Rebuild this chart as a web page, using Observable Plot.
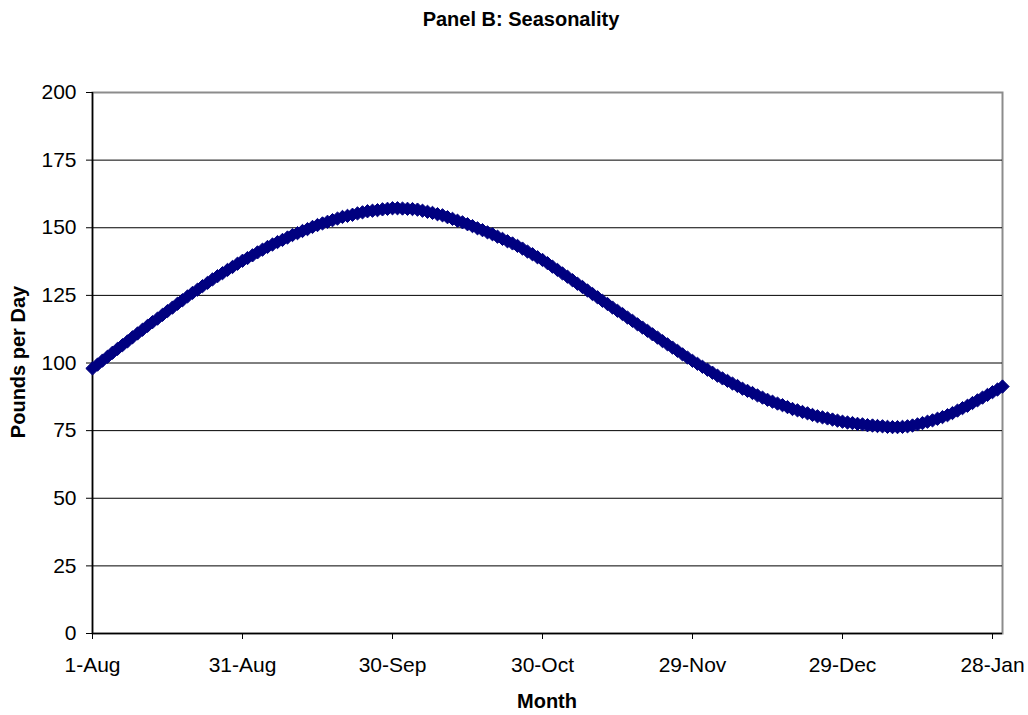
<!DOCTYPE html>
<html>
<head>
<meta charset="utf-8">
<script src="https://cdn.jsdelivr.net/npm/d3@7"></script>
<script src="https://cdn.jsdelivr.net/npm/@observablehq/plot@0.6"></script>
<style>
  html, body { margin: 0; padding: 0; background: #fff; }
  #chart { position: relative; width: 1028px; height: 715px; }
</style>
</head>
<body>
<div id="chart"></div>
<script>
const titleText = "Panel B: Seasonality";
const xLabelText = "Month";
const yLabelText = "Pounds per Day";

const startDate = "2006-08-01";

// Daily pounds per day, 1-Aug through 30-Jan
const pounds = [
  98.0, 99.4, 100.9, 102.3, 103.8, 105.2,
  106.6, 108.0, 109.5, 110.9, 112.3,
  113.7, 115.1, 116.4, 117.8, 119.2,
  120.5, 121.9, 123.2, 124.6, 125.9,
  127.1, 128.4, 129.6, 130.9, 132.1,
  133.2, 134.4, 135.5, 136.7, 137.8,
  138.8, 139.8, 140.9, 141.9, 142.9,
  143.8, 144.7, 145.5, 146.4, 147.3,
  148.0, 148.8, 149.5, 150.3, 151.0,
  151.6, 152.2, 152.8, 153.4, 154.0,
  154.4, 154.8, 155.3, 155.7, 156.1,
  156.3, 156.5, 156.8, 157.0, 157.2,
  157.2, 157.1, 157.0, 156.9, 156.7,
  156.3, 155.9, 155.5, 155.0, 154.6,
  153.9, 153.3, 152.6, 152.0, 151.3,
  150.6, 149.8, 149.1, 148.3, 147.6,
  146.7, 145.9, 145.0, 144.2, 143.3,
  142.3, 141.2, 140.2, 139.1, 138.1,
  136.9, 135.6, 134.4, 133.1, 131.9,
  130.6, 129.3, 128.1, 126.8, 125.5,
  124.3, 123.0, 121.8, 120.5, 119.3,
  118.1, 116.8, 115.6, 114.3, 113.1,
  111.9, 110.6, 109.4, 108.1, 106.9,
  105.7, 104.5, 103.2, 102.0, 100.8,
  99.7, 98.6, 97.5, 96.4, 95.3,
  94.3, 93.4, 92.4, 91.5, 90.5,
  89.7, 88.9, 88.0, 87.2, 86.4,
  85.7, 85.0, 84.4, 83.7, 83.0,
  82.5, 81.9, 81.4, 80.8, 80.3,
  79.9, 79.5, 79.1, 78.7, 78.3,
  78.0, 77.8, 77.5, 77.3, 77.0,
  76.9, 76.7, 76.6, 76.4, 76.3,
  76.3, 76.4, 76.6, 76.9, 77.3,
  77.8, 78.3, 78.8, 79.4, 80.0,
  80.7, 81.5, 82.4, 83.3, 84.2,
  85.2, 86.2, 87.2, 88.2, 89.2,
  90.2, 91.3
];

const tickDates = ["2006-08-01", "2006-08-31", "2006-09-30", "2006-10-30", "2006-11-29", "2006-12-29", "2007-01-28"];
const tickLabels = ["1-Aug", "31-Aug", "30-Sep", "30-Oct", "29-Nov", "29-Dec", "28-Jan"];
const yTicks = [0, 25, 50, 75, 100, 125, 150, 175, 200];

// Build table for the library
const start = new Date(startDate + "T00:00:00Z");
const data = pounds.map((v, i) => ({ date: d3.utcDay.offset(start, i), value: v }));
const tickDateObjs = tickDates.map(s => new Date(s + "T00:00:00Z"));
const labelFor = new Map(tickDateObjs.map((d, i) => [+d, tickLabels[i]]));

const navy = "#000080";
const font = "'Liberation Sans', Arial, sans-serif";

const plot = Plot.plot({
  width: 1028,
  height: 715,
  marginLeft: 92,
  marginRight: 26,
  marginTop: 92,
  marginBottom: 82,
  style: { fontFamily: font, fontSize: "21px", color: "#000", background: "#fff", overflow: "visible" },
  x: { type: "utc", domain: [data[0].date, data[data.length - 1].date] },
  y: { domain: [yTicks[0], yTicks[yTicks.length - 1]] },
  marks: [
    Plot.frame({ stroke: "#8c8c8c", strokeWidth: 2 }),
    Plot.gridY(yTicks.filter(t => t > yTicks[0] && t < yTicks[yTicks.length - 1]), { stroke: "#000", strokeOpacity: 1, strokeWidth: 1 }),
    Plot.ruleY([yTicks[0]], { stroke: "#000", strokeWidth: 1.5 }),
    Plot.ruleX([data[0].date], { stroke: "#000", strokeWidth: 1.5 }),
    Plot.axisY(yTicks, { tickSize: 6, tickPadding: 10, label: null, fontSize: 21 }),
    Plot.axisX(tickDateObjs, { tickSize: 6, tickPadding: 18, label: null, fontSize: 21, tickFormat: d => labelFor.get(+d) }),
    Plot.line(data, { x: "date", y: "value", stroke: navy, strokeWidth: 2 }),
    Plot.dot(data, { x: "date", y: "value", symbol: "diamond2", r: 6, fill: navy, stroke: navy, strokeWidth: 1 })
  ]
});

document.getElementById("chart").appendChild(plot);

const svg = d3.select(plot);
svg.append("text")
  .attr("x", 521).attr("y", 26)
  .attr("text-anchor", "middle")
  .attr("font-family", font).attr("font-weight", "bold").attr("font-size", 20)
  .attr("fill", "#000")
  .text(titleText);
svg.append("text")
  .attr("x", 547).attr("y", 708)
  .attr("text-anchor", "middle")
  .attr("font-family", font).attr("font-weight", "bold").attr("font-size", 20)
  .attr("fill", "#000")
  .text(xLabelText);
svg.append("text")
  .attr("transform", "translate(25,362) rotate(-90)")
  .attr("text-anchor", "middle")
  .attr("font-family", font).attr("font-weight", "bold").attr("font-size", 20)
  .attr("fill", "#000")
  .text(yLabelText);
</script>
</body>
</html>
